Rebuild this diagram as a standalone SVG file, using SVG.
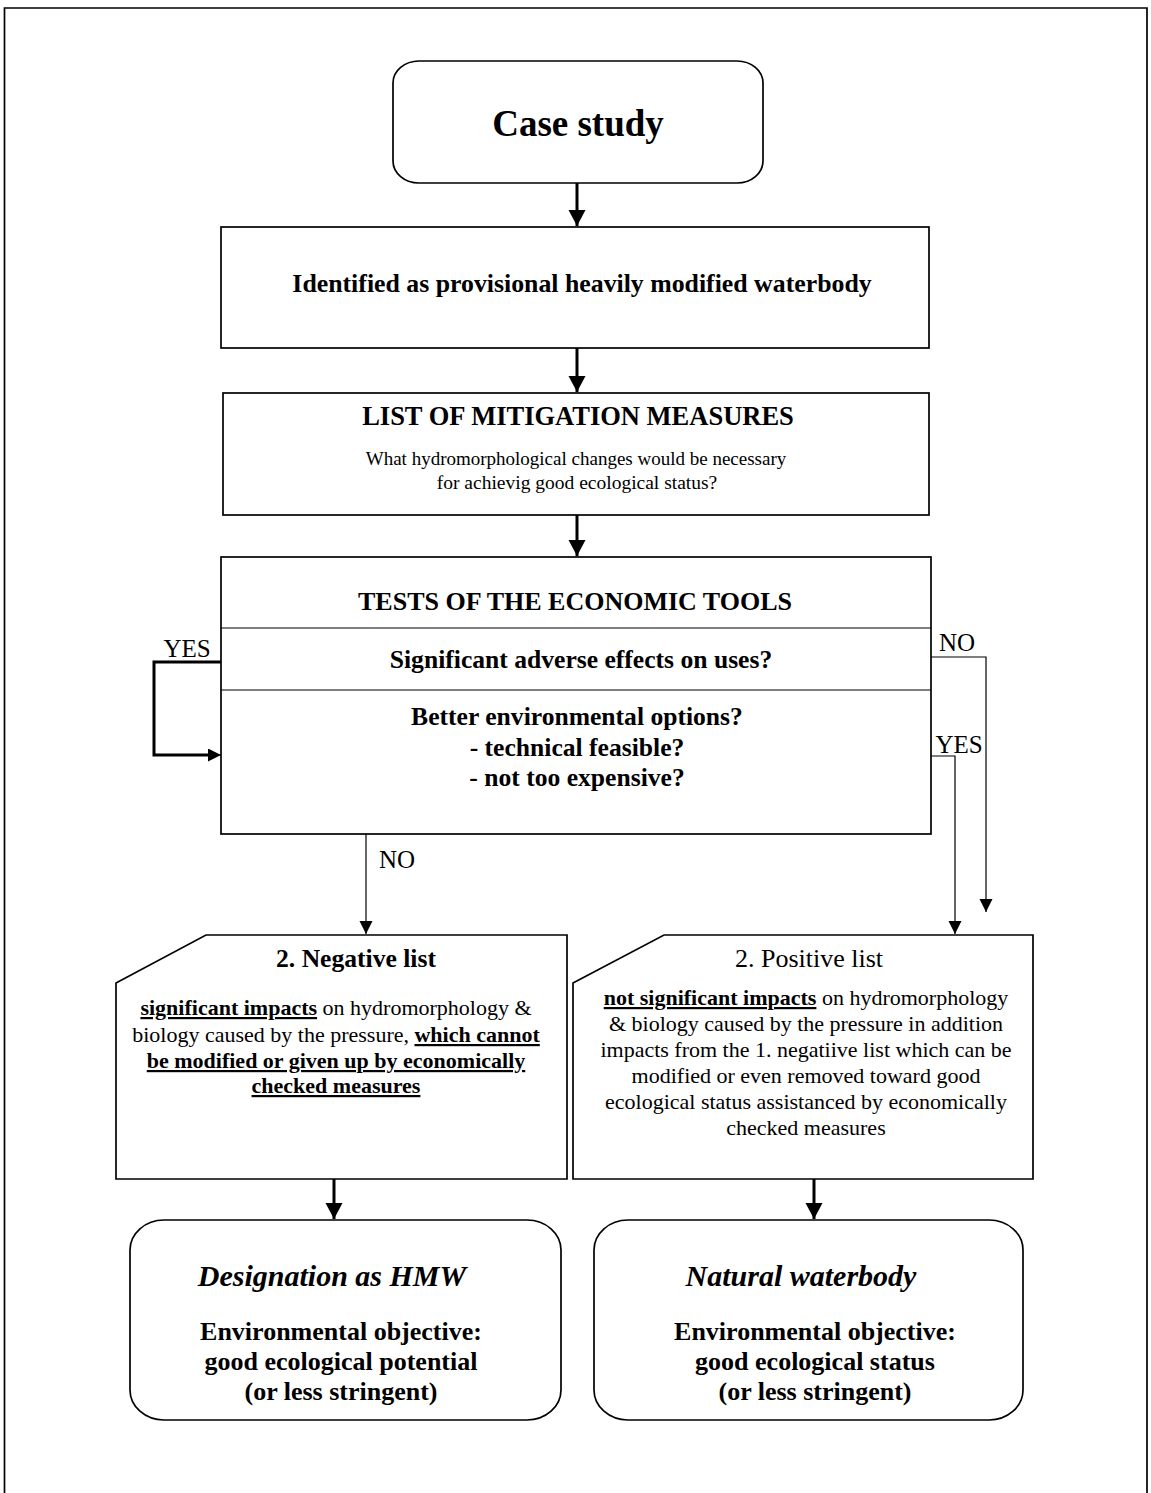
<svg xmlns="http://www.w3.org/2000/svg" width="1151" height="1493" viewBox="0 0 1151 1493">
<style>
text{font-family:"Liberation Serif","Times New Roman",serif;fill:#000;text-anchor:middle}
.b{font-weight:bold}
.box{fill:#fff;stroke:#000;stroke-width:1.7}
.thin{fill:none;stroke:#000;stroke-width:1.2}
.thick{fill:none;stroke:#000;stroke-width:3}
.u{text-decoration:underline}
.lbl{font-size:25px}
</style>
<defs>
<marker id="big" markerUnits="userSpaceOnUse" markerWidth="18" markerHeight="18" refX="16" refY="8.5" orient="auto">
<path d="M0,0 L16,8.5 L0,17 Z" fill="#000"/>
</marker>
<marker id="ah" markerUnits="userSpaceOnUse" markerWidth="15" markerHeight="15" refX="13" refY="6.5" orient="auto">
<path d="M0,0 L13,6.5 L0,13 Z" fill="#000"/>
</marker>
</defs>
<rect x="0" y="0" width="1151" height="1493" fill="#fff"/>
<path d="M4.5,1500 V8 H1147 V1500" fill="none" stroke="#000" stroke-width="1.7"/>

<g id="case-study">
<rect class="box" x="393" y="61" width="370" height="122" rx="26" ry="22"/>
<text class="b" x="578" y="136" font-size="37">Case study</text>
</g>

<g id="identified">
<rect class="box" x="221" y="227" width="708" height="121"/>
<text class="b" x="582" y="292" font-size="25.8">Identified as provisional heavily modified waterbody</text>
</g>

<g id="mitigation">
<rect class="box" x="223" y="393" width="706" height="122"/>
<text class="b" x="578" y="425" font-size="26.5">LIST OF MITIGATION MEASURES</text>
<text x="576" y="465" font-size="19">What hydromorphological changes would be necessary</text>
<text x="577" y="489" font-size="19.5">for achievig good ecological status?</text>
</g>

<g id="tests">
<rect class="box" x="221" y="557" width="710" height="277"/>
<line class="thin" x1="221" y1="628" x2="931" y2="628" stroke-width="1.7"/>
<line class="thin" x1="221" y1="690" x2="931" y2="690" stroke-width="1.7"/>
<text class="b" x="575" y="610" font-size="26">TESTS OF THE ECONOMIC TOOLS</text>
<text class="b" x="581" y="668" font-size="25.6">Significant adverse effects on uses?</text>
<text class="b" x="577" y="725" font-size="25.6">Better environmental options?</text>
<text class="b" x="577" y="756" font-size="25.6">- technical feasible?</text>
<text class="b" x="577" y="786" font-size="25.6">- not too expensive?</text>
</g>

<g id="negative-list">
<polygon class="box" points="116,983 206,935 567,935 567,1179 116,1179"/>
<text class="b" x="356" y="967" font-size="25.6">2. Negative list</text>
<text x="336" y="1015" font-size="22"><tspan class="b u">significant impacts</tspan>  on hydromorphology &amp;</text>
<text x="336" y="1042" font-size="22">biology caused by the pressure, <tspan class="b u">which cannot</tspan></text>
<text class="b u" x="336" y="1068" font-size="22">be modified or given up by economically</text>
<text class="b u" x="336" y="1093" font-size="22">checked  measures</text>
</g>

<g id="positive-list">
<polygon class="box" points="573,983 664,935 1033,935 1033,1179 573,1179"/>
<text x="809" y="967" font-size="26">2. Positive list</text>
<text x="806" y="1005" font-size="22"><tspan class="b u">not significant impacts</tspan> on hydromorphology</text>
<text x="806" y="1031" font-size="22">&amp; biology caused by the pressure in addition</text>
<text x="806" y="1057" font-size="22">impacts from the 1. negatiive list which can be</text>
<text x="806" y="1083" font-size="22">modified or even removed toward good</text>
<text x="806" y="1109" font-size="22">ecological status assistanced by economically</text>
<text x="806" y="1135" font-size="22">checked measures</text>
</g>

<g id="designation-hmw">
<rect class="box" x="130" y="1220" width="431" height="200" rx="34" ry="30"/>
<text class="b" x="332" y="1286" font-size="30" font-style="italic">Designation as HMW</text>
<text class="b" x="341" y="1340" font-size="26">Environmental objective:</text>
<text class="b" x="341" y="1370" font-size="26">good ecological potential</text>
<text class="b" x="341" y="1400" font-size="26">(or less stringent)</text>
</g>

<g id="natural-waterbody">
<rect class="box" x="594" y="1220" width="429" height="200" rx="34" ry="30"/>
<text class="b" x="801" y="1286" font-size="30" font-style="italic">Natural waterbody</text>
<text class="b" x="815" y="1340" font-size="26">Environmental objective:</text>
<text class="b" x="815" y="1370" font-size="26">good ecological status</text>
<text class="b" x="815" y="1400" font-size="26">(or less stringent)</text>
</g>

<g id="connectors">
<line class="thick" x1="577" y1="183" x2="577" y2="226" marker-end="url(#big)"/>
<line class="thick" x1="577" y1="348" x2="577" y2="392" marker-end="url(#big)"/>
<line class="thick" x1="577" y1="515" x2="577" y2="556" marker-end="url(#big)"/>
<polyline class="thick" points="221,662 154,662 154,755 208,755"/>
<line class="thin" x1="206" y1="755" x2="221" y2="755" marker-end="url(#ah)"/>
<polyline class="thin" points="931,657 986,657 986,912" marker-end="url(#ah)"/>
<polyline class="thin" points="931,756 955,756 955,934" stroke="#555" marker-end="url(#ah)"/>
<line class="thin" x1="366" y1="834" x2="366" y2="934" marker-end="url(#ah)"/>
<line class="thick" x1="334" y1="1179" x2="334" y2="1219" marker-end="url(#big)"/>
<line class="thick" x1="814" y1="1179" x2="814" y2="1219" marker-end="url(#big)"/>
<text class="lbl" x="187" y="657">YES</text>
<text class="lbl" x="957" y="651">NO</text>
<text class="lbl" x="959" y="753">YES</text>
<text class="lbl" x="397" y="868">NO</text>
</g>
</svg>
